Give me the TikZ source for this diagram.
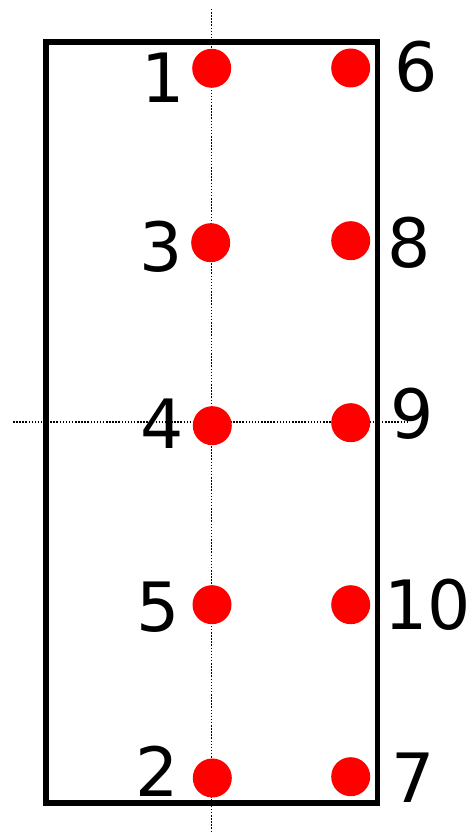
\documentclass[tikz,border=0pt]{standalone}
\usepackage{fontspec}
\setmainfont{DejaVu Sans}
\begin{document}
\begin{tikzpicture}[x=1pt,y=1pt,
  dot/.style={circle,fill=red,draw=none,minimum size=39pt,inner sep=0pt},
  lab/.style={font=\fontsize{68}{68}\selectfont,inner sep=0pt,anchor=center},
  guide/.style={line width=1.6pt,dash pattern=on 1.5pt off 1.6pt}]
\useasboundingbox (0,0) rectangle (469,834);
% frame
\draw[line width=5.5pt] (46,792) rectangle (377.5,31);
% guides
\coordinate (vtop) at (211.5,825);
\coordinate (vbot) at (211.5,0);
\coordinate (hl) at (13,412);
\coordinate (hr) at (407,412);
\draw[guide] (vtop) -- (vbot);
\draw[guide] (hl) -- (hr);
% dots
\node[dot] (d1) at (211.7,765.7) {};
\node[dot] (d3) at (210.7,591.3) {};
\node[dot] (d4) at (212.3,408.3) {};
\node[dot] (d5) at (212,229.3) {};
\node[dot] (d2) at (212.3,56) {};
\node[dot] (d6) at (350.7,766) {};
\node[dot] (d8) at (350.7,593.3) {};
\node[dot] (d9) at (350.7,411.3) {};
\node[dot] (d10) at (350.7,229.3) {};
\node[dot] (d7) at (350.7,57.3) {};
% labels
\node[lab] (l1) at (163,756) {1};
\node[lab] (l3) at (160.8,587.3) {3};
\node[lab] (l4) at (162,410) {4};
\node[lab] (l5) at (158,227.3) {5};
\node[lab] (l2) at (156.7,63) {2};
\node[lab] (l6) at (416,767) {6};
\node[lab] (l8) at (408.8,591) {8};
\node[lab] (l9) at (412.5,420) {9};
\node[lab] (l10) at (427.5,229) {10};
\node[lab] (l7) at (413,56) {7};
\end{tikzpicture}
\end{document}
